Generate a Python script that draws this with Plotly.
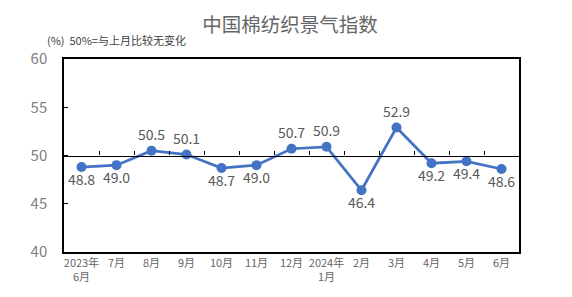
import plotly.graph_objects as go

categories = ["2023年<br>6月", "7月", "8月", "9月", "10月", "11月", "12月",
              "2024年<br>1月", "2月", "3月", "4月", "5月", "6月"]
values = [48.8, 49.0, 50.5, 50.1, 48.7, 49.0, 50.7, 50.9, 46.4, 52.9, 49.2, 49.4, 48.6]
label_pos = ["bottom center", "bottom center", "top center", "top center", "bottom center",
             "bottom center", "top center", "top center", "bottom center", "top center",
             "bottom center", "bottom center", "bottom center"]
y_ticks = [40, 45, 50, 55, 60]
boundaries = [i - 0.5 for i in range(len(categories) + 1)]

FONT = "Noto Sans CJK SC"
idx = list(range(len(categories)))

fig = go.Figure()
fig.add_trace(go.Scatter(
    x=idx, y=values, mode="lines+markers+text",
    text=[f"{v:.1f}" for v in values], textposition=label_pos,
    textfont=dict(family=FONT, size=14, color="#595959"),
    line=dict(color="#4472C4", width=2.75),
    marker=dict(color="#4472C4", size=10),
    cliponaxis=False, showlegend=False, hoverinfo="skip"))
# invisible helper trace for the mid axis line at 50
fig.add_trace(go.Scatter(x=[boundaries[0], boundaries[-1]], y=[50, 50], xaxis="x2",
                         mode="lines", line=dict(color="rgba(0,0,0,0)"),
                         showlegend=False, hoverinfo="skip"))

fig.update_layout(
    width=572, height=297,
    margin=dict(l=64, r=53, t=59, b=45),
    paper_bgcolor="white", plot_bgcolor="white",
    font=dict(family=FONT),
    title=dict(text="中国棉纺织景气指数", x=0.507, xanchor="center", y=0.915, yanchor="middle",
               font=dict(family=FONT, size=19.5, color="#666666")),
    xaxis=dict(range=[-0.5, 12.5], tickvals=idx, ticktext=categories,
               showgrid=False, zeroline=False, showline=True, mirror=True,
               linecolor="black", linewidth=1.5, ticks="",
               tickfont=dict(family=FONT, size=11, color="#666666")),
    xaxis2=dict(range=[-0.5, 12.5], overlaying="x", anchor="free", position=0.5,
                side="bottom", tickvals=boundaries, ticks="inside", ticklen=4,
                tickcolor="black", showticklabels=False, showgrid=False,
                zeroline=False, showline=True, linecolor="black", linewidth=1.2),
    yaxis=dict(range=[40, 60], tickvals=y_ticks, showgrid=False, zeroline=False,
               showline=True, mirror=True, linecolor="black", linewidth=1.5,
               ticks="inside", ticklen=4, tickcolor="black", ticklabelstandoff=12,
               tickfont=dict(family=FONT, size=15, color="#7f7f7f")),
    annotations=[dict(text="(%)  50%=与上月比较无变化", x=(45 - 64) / 455,
                      y=(297 - 40 - 45) / 193, xref="paper", yref="paper",
                      xanchor="left", yanchor="middle", showarrow=False,
                      font=dict(family=FONT, size=11, color="#404040"))],
)

fig.write_html("out.html")
